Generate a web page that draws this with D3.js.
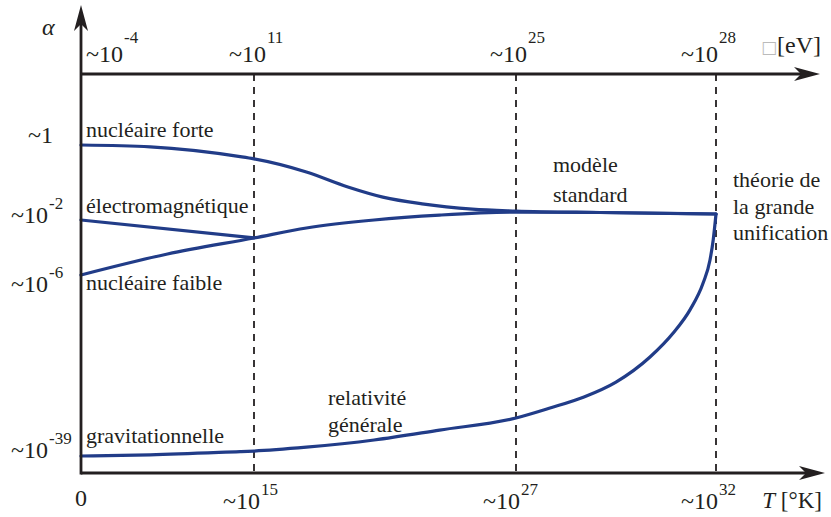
<!DOCTYPE html>
<html>
<head>
<meta charset="utf-8">
<script src="https://cdn.jsdelivr.net/npm/d3@7"></script>
</head>
<body style="margin:0">
<svg id="fig"></svg>
<script>
// coupling constants vs temperature (schematic, log10 values)

let W = 831, H = 517;

// bottom axis: log10 T [K], top axis: log10 E [eV]
let tempTicks = [0, 15, 27, 32];
let tempLabels = ['0', '15', '27', '32'];
let energyLabels = ['-4', '11', '25', '28'];

// left axis: log10 alpha
let alphaTicks = [0, -2, -6, -39];
let alphaExp = ['', '-2', '-6', '-39'];

// curves: [log10 T, log10 alpha]
let strong = [[0, 0], [6, -0.05], [13.8, -0.31], [15, -0.37], [17.4, -0.72], [19.3, -1.12],
              [20.9, -1.39], [22.7, -1.57], [25, -1.71], [27, -1.76], [29.1, -1.8], [32, -1.84]];
let electro = [[0, -2], [15, -3.33]];
let weak = [[0, -6.18], [7.5, -4.52], [15, -3.33], [17.4, -2.59], [20.5, -2.0], [23.5, -1.87],
            [27, -1.79], [29.1, -1.8], [32, -1.84]];
let gravity = [[0, -39], [6, -38.8], [13.8, -38.2], [15, -38.1], [17.4, -37.4], [20.5, -36.1],
               [23.5, -34.3], [27, -32.1], [27.85, -30.3], [28.7, -28.3], [29.5, -25.6],
               [30.35, -21.05], [30.93, -16.7], [31.35, -12.5], [31.68, -7.6], [31.85, -4.96],
               [31.93, -3.48], [32, -1.84]];

let svg = d3.select('#fig').attr('width', W).attr('height', H);

// piecewise scales (schematic axis, not a true log scale)
let x = d3.scaleLinear().domain([0, 15, 27, 32]).range([81, 254, 516, 716]);
let y = d3.scaleLinear().domain([0, -2, -6, -39]).range([145, 220, 274, 456]);

let yTop = 74, yBot = 473, x0 = x(0);
let ink = '#231f20';

// dashed guides
svg.selectAll('line.guide')
  .data(tempTicks.slice(1))
  .enter()
  .append('line')
  .attr('x1', d => x(d)).attr('x2', d => x(d))
  .attr('y1', yTop).attr('y2', yBot)
  .attr('stroke', ink)
  .attr('stroke-width', 1.8)
  .attr('stroke-dasharray', '7,6');

// curves
let line = d3.line()
  .x(d => x(d[0]))
  .y(d => y(d[1]))
  .curve(d3.curveMonotoneX);

[strong, electro, weak, gravity].forEach(s => {
  svg.append('path')
    .attr('d', line(s))
    .attr('fill', 'none')
    .attr('stroke', '#213c88')
    .attr('stroke-width', 3.2)
    .attr('stroke-linecap', 'round');
});

// axes
function arrow(tx, ty, dir) {
  let p;
  if (dir == 'up') {
    p = `M${tx},${ty} L${tx + 7},${ty + 26} L${tx},${ty + 19} L${tx - 7},${ty + 26} Z`;
  } else {
    p = `M${tx},${ty} L${tx - 26},${ty - 7} L${tx - 19},${ty} L${tx - 26},${ty + 7} Z`;
  }
  svg.append('path').attr('d', p).attr('fill', ink);
}

svg.append('line').attr('x1', x0).attr('x2', x0).attr('y1', yBot + 1.4).attr('y2', 14)
  .attr('stroke', ink).attr('stroke-width', 2.8);
arrow(x0, 5, 'up');

svg.append('line').attr('x1', x0).attr('x2', 810).attr('y1', yTop).attr('y2', yTop)
  .attr('stroke', ink).attr('stroke-width', 2.8);
arrow(820, yTop, 'right');

svg.append('line').attr('x1', x0).attr('x2', 815).attr('y1', yBot).attr('y2', yBot)
  .attr('stroke', ink).attr('stroke-width', 2.8);
arrow(825, yBot, 'right');

// all texts made here, serif face set on each element
function txt(px, py, size) {
  return svg.append('text')
    .attr('x', px).attr('y', py)
    .attr('font-size', size)
    .style('font-family', 'Liberation Serif')
    .style('fill', ink);
}

// tick labels ~10^n
function powLabel(px, py, base, exp, anchorEnd, rise) {
  let g = txt(px, py, 24).attr('text-anchor', anchorEnd ? 'end' : 'start').text(base);
  if (exp !== '') {
    let bb = g.node().getBBox();
    txt(bb.x + bb.width + 1, py - rise, 17).text(exp);
  }
}

// top (energy)
let topNudge = [5, 12, 11, 2];
energyLabels.forEach((e, i) => {
  powLabel(x(tempTicks[i]) + topNudge[i], 62, '~10', e, i > 0, 19);
});

// bottom (temperature)
let botNudge = [0, 6, 4, 2];
tempLabels.forEach((e, i) => {
  let t = tempTicks[i];
  if (i == 0) txt(x(t), 506, 24).attr('text-anchor', 'middle').text(e);
  else powLabel(x(t) + botNudge[i], 509, '~10', e, true, 14);
});

// left (alpha)
let leftNudge = [-2, 3, 18, 2];
alphaTicks.forEach((a, i) => {
  let py = y(a) + leftNudge[i];
  if (alphaExp[i] === '') powLabel(53, py, '~1', '', true, 14);
  else powLabel(48, py, '~10', alphaExp[i], true, 14);
});

// axis titles
txt(42, 35, 24).style('font-style', 'italic').text('α');
let tt = txt(822, 508, 23).attr('text-anchor', 'end');
tt.append('tspan').style('font-style', 'italic').text('T');
tt.append('tspan').text(' [°K]');
let et = txt(821, 53, 24).attr('text-anchor', 'end');
et.append('tspan').style('fill', '#bbb').style('font-family', 'DejaVu Sans')
  .attr('font-size', 17).text('□');
et.append('tspan').text('[eV]');

// curve names
let names = [
  ['nucléaire forte', strong[0][1], -8],
  ['électromagnétique', electro[0][1], -7],
  ['nucléaire faible', weak[0][1], 15],
  ['gravitationnelle', gravity[0][1], -13]
];
names.forEach(n => {
  txt(x0 + 5, y(n[1]) + n[2], 22).text(n[0]);
});

// region notes
function note(px, py, gap, lines) {
  let t = txt(px, py, 22);
  lines.forEach((l, i) => {
    t.append('tspan').attr('x', px).attr('dy', i == 0 ? 0 : gap).text(l);
  });
}
note(553, 172, 30, ['modèle', 'standard']);
note(328, 405, 27, ['relativité', 'générale']);
note(733, 187, 26.5, ['théorie de', 'la grande', 'unification']);
</script>
</body>
</html>
